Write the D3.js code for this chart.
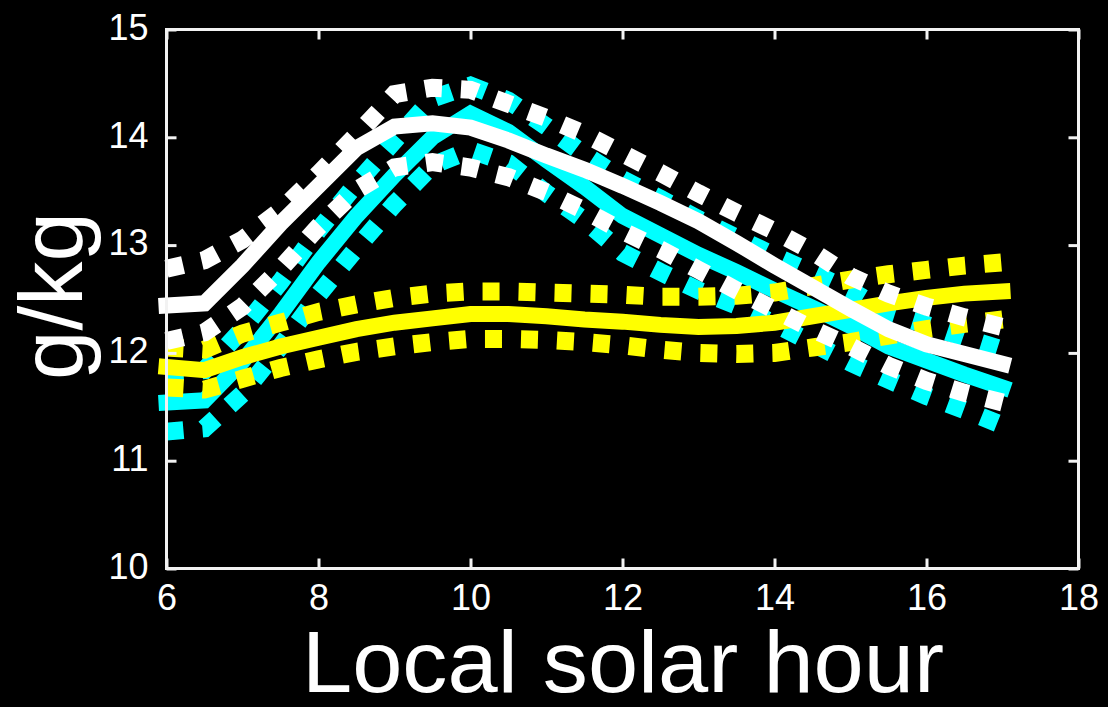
<!DOCTYPE html>
<html>
<head>
<meta charset="utf-8">
<script src="https://cdn.jsdelivr.net/npm/d3@7"></script>
<style>
  html, body { margin: 0; padding: 0; background: #000; }
  svg { display: block; }
  text { font-family: "Liberation Sans", Arial, Helvetica, sans-serif; fill: #fff; }
</style>
</head>
<body>
<svg id="chart" width="1108" height="707"></svg>
<script>
// Local solar hour of each sample
const hours = [6, 6.5, 7, 7.5, 8, 8.5, 9, 9.5, 10, 10.5, 11, 11.5, 12,
               12.5, 13, 13.5, 14, 14.5, 15, 15.5, 16, 16.5, 17];

// Specific humidity (g/kg): mean and upper/lower bounds for each group
const cyanMean  = [11.54, 11.56, 11.92, 12.36, 12.84, 13.27, 13.65, 14.00, 14.22, 14.05, 13.79, 13.54, 13.27, 13.09, 12.91, 12.75, 12.58, 12.42, 12.25, 12.06, 11.93, 11.80, 11.68];
const cyanUpper = [11.82, 11.84, 12.22, 12.66, 13.14, 13.57, 13.97, 14.36, 14.48, 14.34, 14.10, 13.84, 13.61, 13.43, 13.24, 13.07, 12.90, 12.74, 12.58, 12.37, 12.26, 12.14, 12.03];
const cyanLower = [11.27, 11.30, 11.62, 12.06, 12.54, 12.97, 13.38, 13.74, 13.88, 13.76, 13.48, 13.23, 12.93, 12.75, 12.58, 12.44, 12.27, 12.09, 11.91, 11.75, 11.60, 11.47, 11.33];

const yellowMean  = [11.87, 11.84, 11.96, 12.06, 12.14, 12.22, 12.28, 12.32, 12.36, 12.36, 12.34, 12.31, 12.29, 12.26, 12.24, 12.25, 12.28, 12.34, 12.40, 12.46, 12.51, 12.55, 12.57];
const yellowUpper = [12.05, 12.03, 12.18, 12.28, 12.38, 12.45, 12.51, 12.55, 12.57, 12.57, 12.56, 12.55, 12.54, 12.52, 12.52, 12.53, 12.56, 12.62, 12.68, 12.73, 12.77, 12.81, 12.84];
const yellowLower = [11.68, 11.66, 11.76, 11.86, 11.94, 12.01, 12.06, 12.10, 12.13, 12.13, 12.12, 12.10, 12.07, 12.03, 12.00, 11.99, 12.00, 12.05, 12.10, 12.16, 12.22, 12.27, 12.31];

const whiteMean  = [12.44, 12.46, 12.81, 13.20, 13.55, 13.90, 14.10, 14.13, 14.09, 13.97, 13.83, 13.70, 13.55, 13.39, 13.22, 13.02, 12.81, 12.61, 12.41, 12.22, 12.08, 11.99, 11.90];
const whiteUpper = [12.78, 12.86, 13.05, 13.32, 13.66, 14.02, 14.40, 14.46, 14.44, 14.31, 14.18, 14.03, 13.85, 13.67, 13.48, 13.30, 13.13, 12.94, 12.71, 12.55, 12.43, 12.33, 12.24];
const whiteLower = [12.11, 12.19, 12.43, 12.78, 13.17, 13.51, 13.72, 13.77, 13.72, 13.63, 13.49, 13.32, 13.13, 12.96, 12.77, 12.58, 12.40, 12.22, 12.06, 11.88, 11.74, 11.63, 11.54];

// Axis ticks and labels
const xTicks = [6, 8, 10, 12, 14, 16, 18];
const yTicks = [10, 11, 12, 13, 14, 15];
const xLabel = "Local solar hour";
const yLabel = "g/kg";

// Groups in drawing order (later ones on top)
const groups = [
  { color: "#00ffff", mean: cyanMean,   upper: cyanUpper,   lower: cyanLower },
  { color: "#ffff00", mean: yellowMean, upper: yellowUpper, lower: yellowLower },
  { color: "#ffffff", mean: whiteMean,  upper: whiteUpper,  lower: whiteLower }
];

const svg = d3.select("#chart");
svg.append("rect").attr("width", 1108).attr("height", 707).attr("fill", "#000");

const plot = { left: 166.5, right: 1078.5, top: 29.5, bottom: 568.5 };

const x = d3.scaleLinear().domain([6, 18]).range([plot.left, plot.right]);
const y = d3.scaleLinear().domain([10, 15]).range([plot.bottom, plot.top]);

const line = d3.line()
  .x((d, i) => x(hours[i]))
  .y(d => y(d));

const lines = svg.append("g");
groups.forEach(g => {
  [g.upper, g.lower].forEach(arr => {
    lines.append("path")
      .attr("d", line(arr))
      .attr("fill", "none")
      .attr("stroke", g.color)
      .attr("stroke-width", 18)
      .attr("stroke-dasharray", "17 19")
      .attr("stroke-linecap", "butt");
  });
  lines.append("path")
    .attr("d", line(g.mean))
    .attr("fill", "none")
    .attr("stroke", g.color)
    .attr("stroke-width", 16)
    .attr("stroke-linecap", "square");
});

// Frame with inward ticks on all four sides
const tickLen = 10;
const frameColor = "#f2f2f2";

const axB = svg.append("g").attr("transform", `translate(0,${plot.bottom})`)
  .call(d3.axisBottom(x).tickValues(xTicks).tickSizeInner(-tickLen).tickSizeOuter(0).tickPadding(16).tickFormat(d3.format("d")));
const axT = svg.append("g").attr("transform", `translate(0,${plot.top})`)
  .call(d3.axisTop(x).tickValues(xTicks).tickSizeInner(-tickLen).tickSizeOuter(0).tickFormat(""));
const axL = svg.append("g").attr("transform", `translate(${plot.left},0)`)
  .call(d3.axisLeft(y).tickValues(yTicks).tickSizeInner(-tickLen).tickSizeOuter(0).tickPadding(18).tickFormat(d3.format("d")));
const axR = svg.append("g").attr("transform", `translate(${plot.right},0)`)
  .call(d3.axisRight(y).tickValues(yTicks).tickSizeInner(-tickLen).tickSizeOuter(0).tickFormat(""));

[axB, axT, axL, axR].forEach(a => {
  a.select(".domain").remove();
  a.selectAll(".tick line").attr("stroke", frameColor).attr("stroke-width", 3);
  a.selectAll("text").attr("fill", "#fff").style("font-size", "36px")
    .style("font-family", "'Liberation Sans', Arial, Helvetica, sans-serif");
});
axL.selectAll("text").attr("dy", "0.27em");

svg.append("rect")
  .attr("x", plot.left).attr("y", plot.top)
  .attr("width", plot.right - plot.left).attr("height", plot.bottom - plot.top)
  .attr("fill", "none").attr("stroke", frameColor).attr("stroke-width", 3);

// Axis titles
svg.append("text")
  .attr("x", 623)
  .attr("y", 692)
  .attr("text-anchor", "middle")
  .style("font-size", "88px")
  .attr("textLength", 642)
  .attr("lengthAdjust", "spacingAndGlyphs")
  .text(xLabel);

svg.append("text")
  .attr("transform", "translate(82,296) rotate(-90)")
  .attr("text-anchor", "middle")
  .style("font-size", "89px")
  .text(yLabel);
</script>
</body>
</html>
